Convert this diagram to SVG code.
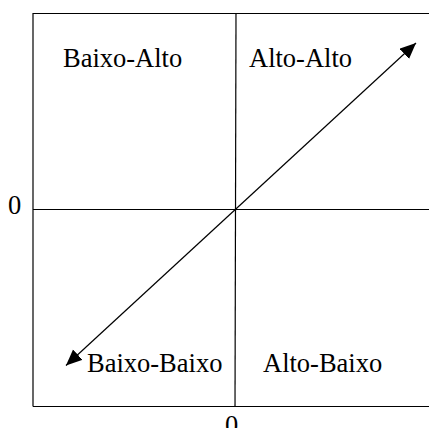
<svg xmlns="http://www.w3.org/2000/svg" width="429" height="428" viewBox="0 0 429 428">
<style>
.ln{stroke:#000;stroke-width:1.2;fill:none}
.t{font-family:"Liberation Serif","Times New Roman",serif;font-size:26.5px;fill:#000}
</style>
<defs>
<marker id="ah" markerUnits="userSpaceOnUse" markerWidth="18" markerHeight="16" refX="16" refY="7" orient="auto-start-reverse">
<path d="M0,0 L16,7 L0,14 z" fill="#000"/>
</marker>
</defs>
<g id="frame">
<line class="ln" x1="33" y1="13.5" x2="429" y2="13.5"/>
<line class="ln" x1="33" y1="13" x2="33" y2="406.5"/>
<line class="ln" x1="33" y1="406.5" x2="429" y2="406.5"/>
</g>
<g id="axes">
<line class="ln" x1="33" y1="209.5" x2="429" y2="209.5"/>
<line class="ln" x1="236" y1="13" x2="235" y2="406.5"/>
</g>
<g id="connectors">
<line class="ln" x1="66" y1="365.5" x2="416" y2="43" marker-start="url(#ah)" marker-end="url(#ah)"/>
</g>
<g id="q-baixo-alto"><text class="t" x="63" y="67">Baixo-Alto</text></g>
<g id="q-alto-alto"><text class="t" x="249" y="67">Alto-Alto</text></g>
<g id="q-baixo-baixo"><text class="t" x="87" y="372">Baixo-Baixo</text></g>
<g id="q-alto-baixo"><text class="t" x="263" y="372">Alto-Baixo</text></g>
<g id="label-y0"><text class="t" x="8" y="214">0</text></g>
<g id="label-x0"><text class="t" x="225" y="434">0</text></g>
</svg>
